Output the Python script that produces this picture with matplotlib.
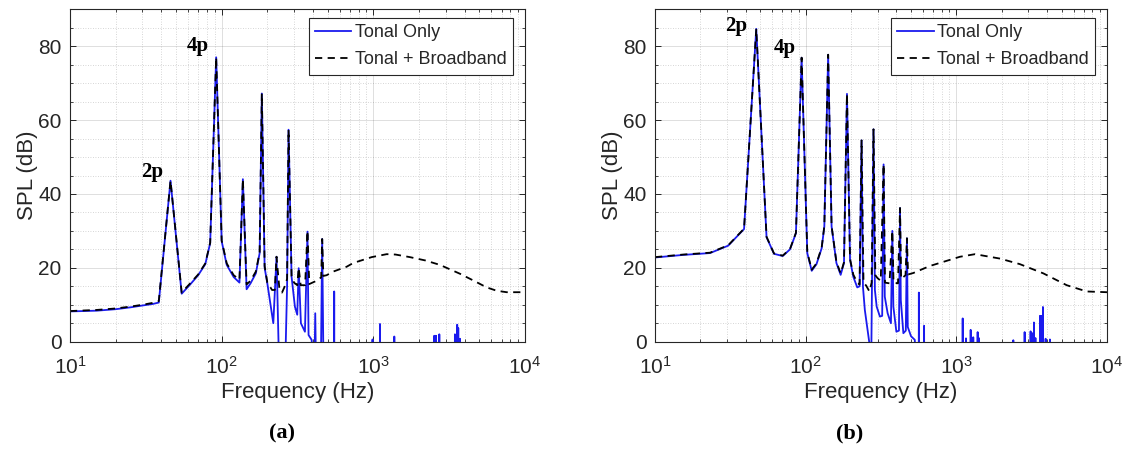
import matplotlib
matplotlib.use("Agg")
import matplotlib.pyplot as plt
from matplotlib.ticker import MultipleLocator, LogLocator, NullFormatter

plt.rcParams["font.family"] = "Liberation Sans"
plt.rcParams["mathtext.fontset"] = "custom"
plt.rcParams["mathtext.rm"] = "Liberation Sans"
plt.rcParams["mathtext.it"] = "Liberation Sans:italic"

# ---- panel (a) ----
freq_a_tonal = [10, 15, 20, 25, 30, 35, 38.5, 46, 54.5, 62, 70, 78, 84, 92, 100, 108, 120, 131,
                138, 146, 155, 168, 178, 184, 192, 200, 219, 230, 237, 250, 264, 270, 276, 289,
                304, 315, 322, 333, 354, 368, 374, 392, 408, 414, 420, 450, 460, 470, 490]
spl_a_tonal = [8.2, 8.4, 8.8, 9.3, 9.8, 10.2, 10.6, 43.6, 13.0, 15.5, 18.0, 21.0, 26.7, 77.0, 27.2,
               20.8, 17.5, 16.0, 44.0, 14.2, 15.8, 18.5, 24.0, 67.2, 20.0, 15.8, 5.0, 23.0, 0.0,
               -10.0, -2.0, 15.0, 57.4, 17.6, 9.5, 7.3, 19.9, 5.0, 2.7, 29.8, 1.8, 0.5, -10.0, 7.7,
               -10.0, -10.0, 27.8, -10.0, -10.0]
spikes_a_f = [552, 988, 1106, 1375, 2520, 2560, 2590, 2723, 3450, 3573, 3630, 3724]
spikes_a_h = [13.6, 0.6, 4.8, 1.4, 1.6, 1.6, 1.6, 2.0, 2.0, 4.6, 3.7, 0.8]

freq_a_total = [10, 15, 20, 25, 30, 35, 38.5, 46, 54.5, 62, 70, 78, 84, 92, 100, 108, 120, 131,
                138, 146, 155, 168, 178, 184, 192, 200, 215, 224, 230, 240, 250, 262, 270, 276,
                289, 300, 315, 322, 332, 355, 368, 378, 412, 453, 460, 468, 492, 545, 667, 736,
                975, 1225, 1400, 1742, 2200, 2747, 3724, 4600, 5590, 6500, 7570, 10000]
spl_a_total = [8.3, 8.6, 9.0, 9.5, 10.0, 10.5, 11.0, 43.6, 13.3, 15.8, 18.2, 21.2, 26.8, 77.0, 27.4,
               21.2, 18.0, 16.8, 44.0, 15.5, 16.5, 19.0, 24.2, 67.2, 20.5, 16.0, 14.0, 14.0, 23.0,
               14.5, 13.3, 15.2, 17.0, 57.4, 17.8, 16.0, 15.3, 20.0, 15.3, 15.3, 30.0, 15.6, 16.3,
               17.4, 27.8, 17.8, 18.0, 19.0, 20.3, 21.3, 22.9, 23.7, 23.6, 22.9, 22.0, 20.8, 18.4,
               16.5, 14.7, 13.8, 13.4, 13.4]

# ---- panel (b) ----
freq_b_tonal = [10, 15.4, 23.2, 30.6, 39, 47, 55, 61.6, 70.4, 78.7, 86.2, 94, 102.5, 109.7, 118,
                127.7, 133, 141, 148.6, 160, 170.7, 179.6, 188, 197, 207, 220, 228, 235, 240, 247,
                264, 272, 282, 288, 296, 311, 322, 329, 335, 350, 368, 376, 382, 400, 416, 423,
                428, 445, 462, 470, 476, 500, 530, 545]
spl_b_tonal = [22.8, 23.5, 24.0, 26.0, 30.5, 84.7, 28.3, 23.8, 23.2, 25.0, 29.4, 76.9, 24.0, 19.2,
               21.0, 25.3, 31.2, 77.7, 31.2, 21.3, 18.1, 21.3, 67.1, 22.2, 17.6, 14.7, 15.0, 54.5,
               14.9, 8.6, 0.0, -8.0, 57.5, 14.0, 9.5, 6.8, 7.0, 48.0, 12.2, 7.7, 5.0, 30.0, 9.5,
               2.7, 3.0, 36.2, 11.3, 2.3, 3.0, 28.0, 4.0, 1.5, 0.5, -10.0]
spikes_b_f = [564, 611, 1102, 1159, 1245, 1295, 1385, 1410, 2389, 2840, 3111, 3190, 3273, 3350,
              3590, 3680, 3755, 3914, 4180]
spikes_b_h = [13.3, 4.3, 6.3, 0.9, 3.2, 1.2, 2.6, 1.0, 0.4, 2.6, 2.8, 2.3, 5.2, 1.0, 7.0, 7.0,
              9.4, 0.8, 0.6]

freq_b_total = [10, 15.4, 23.2, 30.6, 39, 47, 55, 61.6, 70.4, 78.7, 86.2, 94, 102.5, 109.7, 118,
                127.7, 133, 141, 148.6, 160, 170.7, 179.6, 188, 197, 207, 220, 228, 235, 242, 252,
                265, 274, 282, 290, 300, 315, 329, 336, 360, 376, 383, 410, 423, 430, 460, 470,
                478, 518, 667, 1057, 1330, 1950, 2640, 3780, 5400, 7330, 10000]
spl_b_total = [22.9, 23.6, 24.1, 26.1, 30.6, 84.7, 28.4, 23.9, 23.3, 25.1, 29.5, 76.9, 24.2, 19.5,
               21.2, 25.5, 31.3, 77.7, 31.3, 21.6, 18.5, 21.5, 67.1, 22.4, 18.2, 16.0, 15.5, 54.5,
               16.0, 15.2, 13.6, 16.0, 57.5, 18.0, 17.2, 16.5, 48.0, 16.0, 15.8, 30.0, 16.0, 15.8,
               36.2, 17.0, 18.0, 28.0, 18.2, 18.6, 20.5, 23.0, 23.7, 22.5, 21.0, 18.5, 15.3, 13.6,
               13.4]

peak_labels = ["2p", "4p"]
label_pos_a = [(34.8, 46.0), (69.8, 80.0)]
label_pos_b = [(34.5, 85.5), (73.0, 79.6)]

ink = "#262626"


def add_spikes(f, s, sf, sh):
    ff, ss = list(f), list(s)
    for x, h in zip(sf, sh):
        ff += [x / 1.003, x, x * 1.003]
        ss += [-20, h, -20]
    return ff, ss


fig = plt.figure(figsize=(11.28, 4.49), dpi=100)
ax_a = fig.add_axes([70 / 1128, 107.3 / 449, 455 / 1128, 332.4 / 449])
ax_b = fig.add_axes([655 / 1128, 107.3 / 449, 452 / 1128, 332.4 / 449])

panels = [
    (ax_a, freq_a_tonal, spl_a_tonal, spikes_a_f, spikes_a_h, freq_a_total, spl_a_total, label_pos_a),
    (ax_b, freq_b_tonal, spl_b_tonal, spikes_b_f, spikes_b_h, freq_b_total, spl_b_total, label_pos_b),
]

for ax, ft, st, sf, sh, fb, sb, lpos in panels:
    fx, sx = add_spikes(ft, st, sf, sh)
    ax.plot(fx, sx, color="#1a1aee", lw=1.3, label="Tonal Only")
    ax.plot(fb, sb, color="black", lw=1.3, dashes=(4, 3), label="Tonal + Broadband")
    ax.set_xscale("log")
    ax.set_xlim(10, 1e4)
    ax.set_ylim(0, 90)
    ax.yaxis.set_major_locator(MultipleLocator(20))
    ax.yaxis.set_minor_locator(MultipleLocator(5))
    ax.xaxis.set_minor_locator(LogLocator(base=10, subs=range(2, 10)))
    ax.xaxis.set_minor_formatter(NullFormatter())
    ax.grid(True, which="major", color=ink, alpha=0.15, lw=0.7)
    ax.grid(True, which="minor", color=ink, alpha=0.25, lw=0.6, ls=(0, (1, 2)))
    ax.tick_params(which="both", direction="in", top=True, right=True, colors=ink,
                   labelsize=15, labelcolor=ink)
    ax.tick_params(which="major", length=4, width=0.7)
    ax.tick_params(which="minor", length=2, width=0.6)
    ax.tick_params(axis="x", which="major", pad=10)
    ax.tick_params(axis="y", which="major", pad=6)
    for sp in ax.spines.values():
        sp.set_color(ink)
        sp.set_linewidth(0.8)
    ax.set_xlabel("Frequency (Hz)", fontsize=16, color=ink, labelpad=3)
    ax.set_ylabel("SPL (dB)", fontsize=16, color=ink, labelpad=0)
    leg = ax.legend(loc="upper right", bbox_to_anchor=(0.974, 0.974), borderaxespad=0,
                    fontsize=13, frameon=True, fancybox=False, framealpha=1,
                    handlelength=2.0, handletextpad=0.2, labelspacing=0.55,
                    borderpad=0.35)
    leg.get_frame().set_edgecolor(ink)
    leg.get_frame().set_linewidth(0.8)
    for t in leg.get_texts():
        t.set_color(ink)
    for txt, (x, y) in zip(peak_labels, lpos):
        ax.text(x, y, txt, ha="center", va="center", fontsize=15, fontweight="bold",
                family="Liberation Serif", color="black")

fig.text(282 / 1128, 1 - 433 / 449, "(a)", ha="center", va="center", fontsize=16,
         fontweight="bold", family="Liberation Serif")
fig.text(850 / 1128, 1 - 433 / 449, "(b)", ha="center", va="center", fontsize=16,
         fontweight="bold", family="Liberation Serif")

fig.savefig("out.png", dpi=100)
